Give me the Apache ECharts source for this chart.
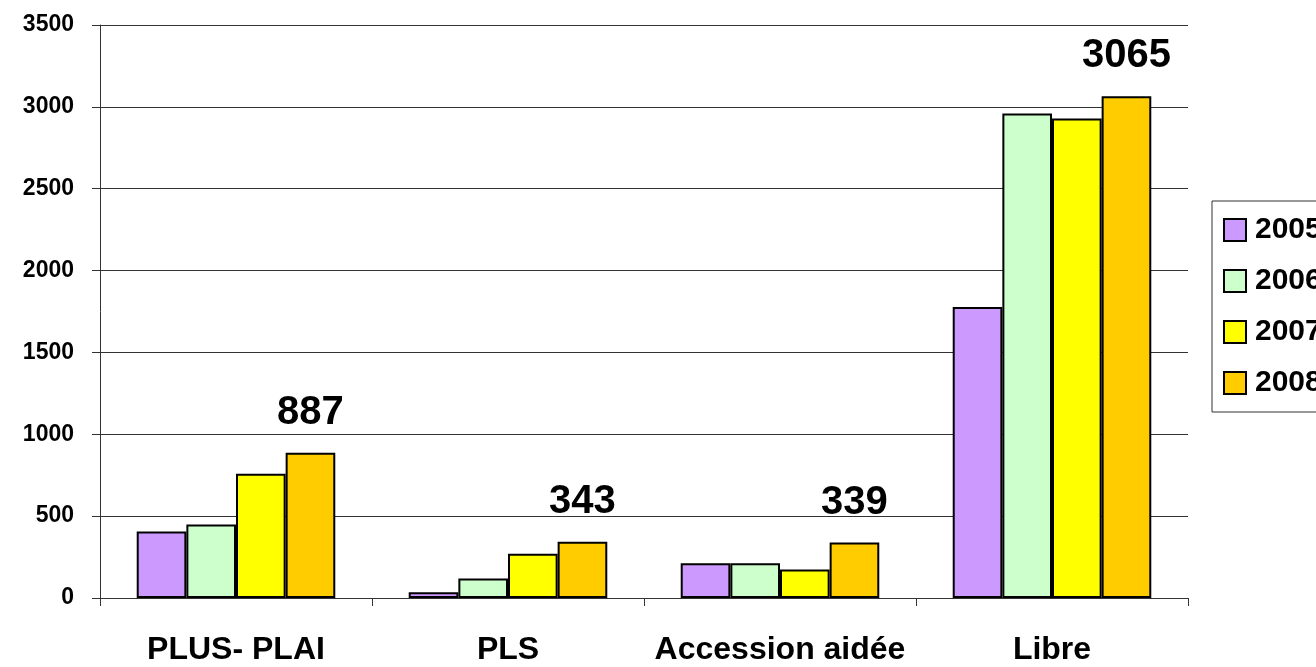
<!DOCTYPE html>
<html>
<head>
<meta charset="utf-8">
<title>Logements</title>
<script src="https://cdn.jsdelivr.net/npm/echarts@6/dist/echarts.min.js"></script>
<style>
  html, body { margin: 0; padding: 0; background: #fff; }
  #chart { width: 1316px; height: 667px; }
</style>
</head>
<body>
<div id="chart"></div>
<script>
// catégories et valeurs
const categories = ['PLUS- PLAI', 'PLS', 'Accession aidée', 'Libre'];
const years = ['2005', '2006', '2007', '2008'];
const v2005 = [406, 35, 213, 1778];
const v2006 = [449, 119, 213, 2960];
const v2007 = [759, 270, 174, 2929];
const v2008 = [887, 343, 339, 3065];
const yTicks = [0, 500, 1000, 1500, 2000, 2500, 3000, 3500];

const colors = ['#CC99FF', '#CCFFCC', '#FFFF00', '#FFCC00'];
const FONT = '"Liberation Sans", Arial, sans-serif';

const chart = echarts.init(document.getElementById('chart'));

const makeSeries = (name, data, color, withLabel) => ({
  name: name,
  type: 'bar',
  data: data,
  barGap: '0%',
  barCategoryGap: '27%',
  itemStyle: {
    color: color,
    borderColor: '#000',
    borderWidth: 2
  },
  label: {
    show: withLabel,
    position: 'top',
    distance: 20,
    fontFamily: FONT,
    fontWeight: 'bold',
    fontSize: 40,
    color: '#000'
  }
});

chart.setOption({
  animation: false,
  backgroundColor: '#fff',
  grid: { left: 100, right: 128, top: 25, bottom: 69 },
  legend: {
    data: years,
    orient: 'vertical',
    left: 1212,
    top: 201,
    padding: [14, 40, 14, 11],
    itemGap: 21,
    itemWidth: 22,
    itemHeight: 22,
    icon: 'rect',
    borderColor: '#333',
    borderWidth: 1,
    textStyle: {
      fontFamily: FONT,
      fontWeight: 'bold',
      fontSize: 30,
      color: '#000',
      padding: [0, 0, 0, 4]
    }
  },
  xAxis: {
    type: 'category',
    data: categories,
    axisLine: { lineStyle: { color: '#333', width: 1 } },
    axisTick: { show: true, length: 8, lineStyle: { color: '#333' } },
    axisLabel: {
      interval: 0,
      margin: 36,
      fontFamily: FONT,
      fontWeight: 'bold',
      fontSize: 32,
      color: '#000'
    }
  },
  yAxis: {
    type: 'value',
    min: yTicks[0],
    max: yTicks[yTicks.length - 1],
    interval: 500,
    axisLine: { show: true, lineStyle: { color: '#333', width: 1 } },
    axisTick: { show: true, length: 8, lineStyle: { color: '#333' } },
    splitLine: { show: true, lineStyle: { color: '#333', width: 1 } },
    axisLabel: {
      margin: 26,
      formatter: (v) => String(v),
      fontFamily: FONT,
      fontWeight: 'bold',
      fontSize: 23,
      color: '#000'
    }
  },
  series: [
    makeSeries(years[0], v2005, colors[0], false),
    makeSeries(years[1], v2006, colors[1], false),
    makeSeries(years[2], v2007, colors[2], false),
    makeSeries(years[3], v2008, colors[3], true)
  ]
});
</script>
</body>
</html>
